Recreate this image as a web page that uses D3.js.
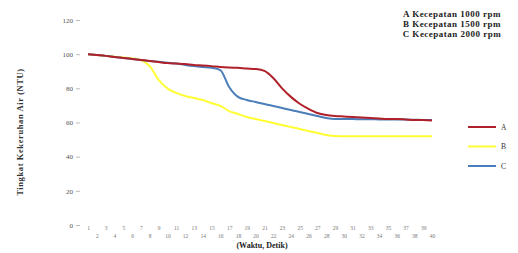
<!DOCTYPE html>
<html>
<head>
<meta charset="utf-8">
<script src="https://cdn.jsdelivr.net/npm/d3@7"></script>
<style>
  body { margin: 0; background: #fff; }
</style>
</head>
<body>
<div id="canvas"></div>
<script>
"use strict"

/* data */
let labels = d3.range(1, 41).map(String);
let seriesA = [100, 99.5, 99, 98.3, 97.8, 97.2, 96.6, 96, 95.4, 94.8, 94.5, 94.2, 93.7, 93.4, 93, 92.5, 92.2, 92, 91.6, 91.3,
    90.2, 86, 80, 75, 71, 68, 65.6, 64.4, 63.8, 63.5, 63.2, 62.9, 62.6, 62.3, 62, 62, 61.8, 61.5, 61.5, 61.2];
let seriesB = [100, 99.5, 99, 98.5, 98, 97.5, 96.6, 93, 85, 80, 77.3, 75.5, 74.3, 73.2, 71.4, 69.7, 66.7, 65, 63.2, 62,
    60.9, 59.7, 58.5, 57.4, 56.2, 55, 53.9, 52.7, 52.1, 52, 52, 52, 52, 52, 52, 52, 52, 52, 52, 52];
let seriesC = [100, 99.5, 99, 98.4, 97.8, 97.2, 96.6, 96, 95.5, 95, 94.5, 93.7, 93, 92.5, 92, 90.7, 80.8, 75, 73.2, 72,
    70.8, 69.7, 68.5, 67.3, 66.2, 65, 63.8, 62.6, 62, 62, 62, 61.9, 61.9, 61.8, 61.8, 61.7, 61.7, 61.6, 61.5, 61.5];
let yTicks = [0, 20, 40, 60, 80, 100, 120];
let seriesNames = ["A", "B", "C"];
let legendLines = ["A Kecepatan 1000 rpm", "B Kecepatan 1500 rpm", "C Kecepatan 2000 rpm"];

let drawing = d3.select("#canvas")
    .append("svg")
    .attr("width", 518)
    .attr("height", 253);

let x = d3.scalePoint()
    .domain(labels)
    .range([88, 432]);

let y = d3.scaleLinear()
    .domain([0, 120])
    .range([225, 20]);

/* y axis, no domain line, short ticks */
let yAxis = drawing.append("g")
    .attr("transform", "translate(80,0)")
    .call(d3.axisLeft(y).tickValues(yTicks).tickSize(4).tickPadding(3));
yAxis.select(".domain").remove();
yAxis.selectAll("line").attr("stroke", "#bbb");
yAxis.selectAll("text")
    .attr("font-family", "Liberation Serif")
    .attr("font-size", 7)
    .attr("fill", "#555");

/* x axis labels in two staggered rows */
let xAxis = drawing.append("g")
    .attr("transform", "translate(0,224)")
    .call(d3.axisBottom(x).tickSize(0).tickPadding(4));
xAxis.select(".domain").remove();
xAxis.selectAll("text")
    .attr("font-family", "Liberation Serif")
    .attr("font-size", 5.5)
    .attr("fill", "#777")
    .attr("dy", (d, i) => i % 2 === 0 ? "0.4em" : "1.9em");

/* axis titles */
drawing.append("text")
    .attr("transform", "translate(23,132) rotate(-90)")
    .attr("text-anchor", "middle")
    .attr("font-family", "Liberation Serif")
    .attr("font-weight", "bold")
    .attr("font-size", 8.5)
    .attr("letter-spacing", 0.6)
    .attr("fill", "#333")
    .text("Tingkat Kekeruhan Air (NTU)");

drawing.append("text")
    .attr("x", 262)
    .attr("y", 248)
    .attr("text-anchor", "middle")
    .attr("font-family", "Liberation Serif")
    .attr("font-weight", "bold")
    .attr("font-size", 8)
    .attr("fill", "#222")
    .text("(Waktu, Detik)");

/* lines */
let colors = ["#b0202a", "#ffff33", "#4a7ebb"];
let allSeries = [seriesA, seriesB, seriesC];
let line = d3.line()
    .x((d, i) => x(labels[i]))
    .y(d => y(d))
    .curve(d3.curveMonotoneX);

/* draw yellow first so red/blue sit on top */
[1, 2, 0].forEach(k => {
    drawing.append("path")
        .attr("d", line(allSeries[k]))
        .attr("fill", "none")
        .attr("stroke", colors[k])
        .attr("stroke-width", 2);
});

/* line legend on the right */
seriesNames.forEach((name, k) => {
    let ly = 127 + k * 19.5;
    drawing.append("line")
        .attr("x1", 468)
        .attr("x2", 496)
        .attr("y1", ly)
        .attr("y2", ly)
        .attr("stroke", colors[k])
        .attr("stroke-width", 2);
    drawing.append("text")
        .attr("x", 501)
        .attr("y", ly + 2.5)
        .attr("font-family", "Liberation Serif")
        .attr("font-size", 7.5)
        .attr("fill", "#333")
        .text(name);
});

/* text legend top right */
legendLines.forEach((t, k) => {
    drawing.append("text")
        .attr("x", 452)
        .attr("y", 17 + k * 10)
        .attr("text-anchor", "middle")
        .attr("font-family", "Liberation Serif")
        .attr("font-weight", "bold")
        .attr("font-size", 9)
        .attr("letter-spacing", 0.5)
        .attr("fill", "#222")
        .text(t);
});
</script>
</body>
</html>
